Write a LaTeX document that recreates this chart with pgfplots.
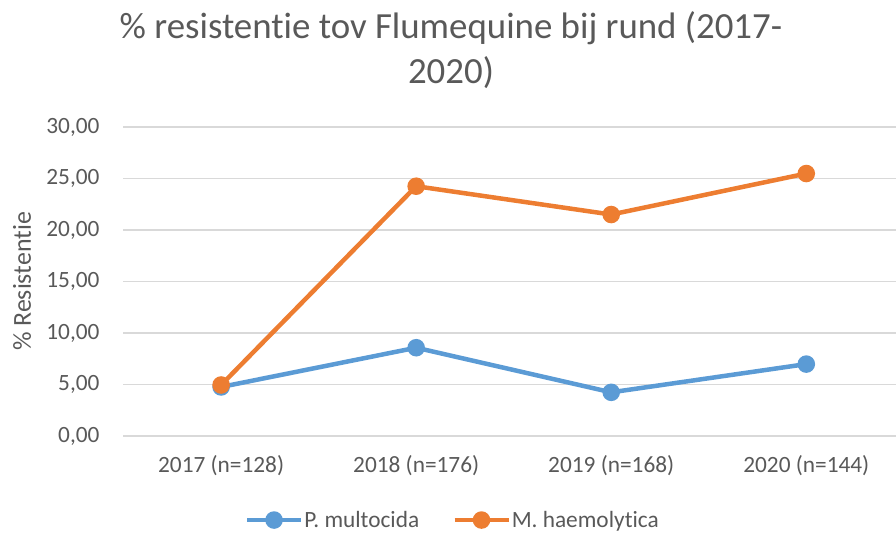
\documentclass[border=0pt]{standalone}
\usepackage{pgfplots}
\pgfplotsset{compat=1.18}
\usepackage{fontspec}
\setmainfont{Carlito}[Ligatures={NoCommon,NoContextual,NoRare,NoDiscretionary}]
\definecolor{txtgray}{RGB}{89,89,89}
\definecolor{gridgray}{RGB}{217,217,217}
\definecolor{sblue}{RGB}{91,155,213}
\definecolor{sorange}{RGB}{237,125,49}
\begin{document}
\begin{tikzpicture}[x=1bp,y=1bp]
\useasboundingbox (0,0) rectangle (896,536);
\node[text=txtgray, align=center, font=\fontsize{37}{45}\selectfont] at (451,486) {\% resistentie tov Flumequine bij rund (2017-\\2020)};
\begin{axis}[
  at={(123bp,100bp)}, anchor=south west,
  width=773bp, height=309bp, scale only axis,
  xmin=-0.503, xmax=3.46, ymin=0, ymax=30,
  xtick={0,1,2,3},
  xticklabels={2017 (n=128),2018 (n=176),2019 (n=168),2020 (n=144)},
  ytick={0,5,10,15,20,25,30},
  yticklabel={\pgfmathprintnumber[fixed,fixed zerofill,precision=2,use comma]{\tick}},
  /pgf/number format/assume math mode=true,
  axis line style={draw=none},
  major tick length=0pt,
  ymajorgrids, major grid style={gridgray, line width=1.5bp},
  tick label style={text=txtgray, font=\fontsize{23.4}{28}\selectfont},
  yticklabel style={xshift=-20bp},
  xticklabel style={yshift=-16bp},
  ylabel={\% Resistentie},
  ylabel style={text=txtgray, font=\fontsize{26}{30}\selectfont, at={(axis description cs:-0.1307,0.5)}, anchor=center},
  legend style={at={(0.426,-0.272)}, anchor=center, draw=none, legend columns=2,
    font=\fontsize{23.4}{28}\selectfont, text=txtgray, nodes={inner xsep=1bp},
    /tikz/every even column/.append style={column sep=32bp}},
  legend image code/.code={\draw[mark repeat=2,mark phase=2] plot coordinates {(0bp,0bp) (27bp,0bp) (54bp,0bp)};},
  every axis plot/.append style={line width=4.5bp, mark=*, mark size=6.5bp, mark options={solid, line width=0.5bp}},
]
\addplot[sblue, mark options={fill=sblue, draw=sblue}] coordinates {(0,4.76) (1,8.57) (2,4.24) (3,6.98)};
\addplot[sorange, mark options={fill=sorange, draw=sorange}] coordinates {(0,4.95) (1,24.25) (2,21.5) (3,25.48)};
\legend{P. multocida, M. haemolytica}
\end{axis}
\end{tikzpicture}
\end{document}
